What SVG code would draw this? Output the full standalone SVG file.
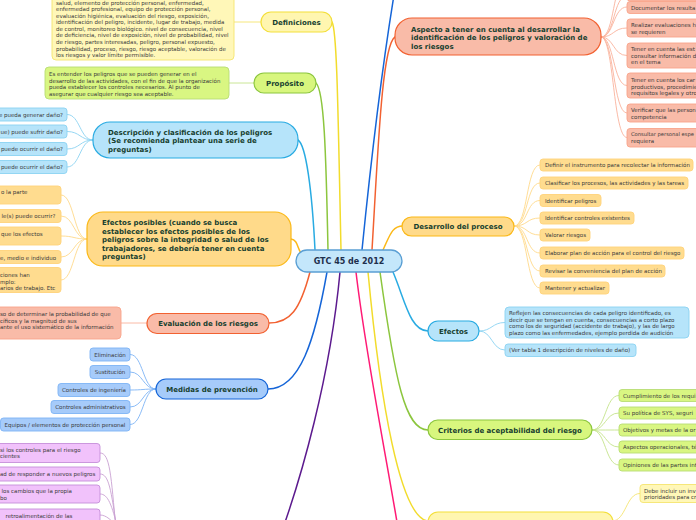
<svg xmlns="http://www.w3.org/2000/svg" width="696" height="520" viewBox="0 0 696 520">
<style>
text{font-family:"DejaVu Sans",Verdana,sans-serif;}
.t{font-size:5.5px;fill:#3a3a3a;}
.b{font-size:7px;font-weight:bold;fill:#17402f;}
.m{text-anchor:middle;}
.e{text-anchor:end;}
.c{fill:none;stroke-width:1.5;stroke-linecap:round;}
.s{fill:none;stroke-width:0.9;}
.n{stroke-width:1.2;}
.k{stroke-width:0.9;}
.yel{fill:#fff6b0;stroke:#f3df3a;}
.yelc{fill:#fff7b8;stroke:#f5e46e;}
.grn{fill:#d8f67e;stroke:#8cc63e;}
.grnc{fill:#d9f682;stroke:#b8dd74;}
.lbl{fill:#b6e4fa;stroke:#29abe2;}
.lblc{fill:#b6e4fa;stroke:#8bd3f2;}
.org{fill:#ffda8a;stroke:#fbb817;}
.orgc{fill:#ffdc8f;stroke:#ffd27a;}
.sal{fill:#f9bba8;stroke:#f26131;}
.salc{fill:#f9bba8;stroke:#f8a48a;}
.blu{fill:#a6cbfa;stroke:#1565d8;}
.bluc{fill:#a6cbfa;stroke:#7db3f5;}
.purc{fill:#f1c2fb;stroke:#c58ed9;}
</style>
<rect width="696" height="520" fill="#ffffff"/>

<g id="connectors">
  <path class="c" stroke="#f2dc2c" d="M341,250 C338,110 337,30 332,22"/>
  <path class="c" stroke="#8cc63e" d="M328,250 C326,150 324,90 316,83"/>
  <path class="c" stroke="#29abe2" d="M315,250 C312,190 306,145 298,140"/>
  <path class="c" stroke="#1565d8" d="M362,250 C372,150 385,50 394,-5"/>
  <path class="c" stroke="#f26131" d="M372,250 C378,150 382,45 395,37"/>
  <path class="c" stroke="#fbb817" d="M383,250 C390,235 392,226 403,226"/>
  <path class="c" stroke="#fbb817" d="M301,253 C297,248 298,240 291,239"/>
  <path class="c" stroke="#f26131" d="M310,272 C300,310 290,323 269,323"/>
  <path class="c" stroke="#1565d8" d="M327,272 C315,340 300,389 268,389"/>
  <path class="c" stroke="#5c1a8e" d="M340,272 C330,380 300,480 283,528"/>
  <path class="c" stroke="#ff1a75" d="M356,272 C365,350 385,450 398,528"/>
  <path class="c" stroke="#f2dc2c" d="M368,272 C380,400 400,518 428,521"/>
  <path class="c" stroke="#8cc63e" d="M380,272 C395,380 405,430 428,430"/>
  <path class="c" stroke="#29abe2" d="M393,272 C405,300 410,331 428,331"/>
  <path class="s" stroke="#f5e46e" d="M261,22 L234,22"/>
  <path class="s" stroke="#c4e38a" d="M254,83 L229,83"/>
  <path class="s" stroke="#f9b29c" d="M147,323 L121,323"/>
  <g class="s" stroke="#8bd3f2">
    <path d="M93,140 C80,140 80,114.5 67,114.5"/>
    <path d="M93,140 C80,140 80,131.5 67,131.5"/>
    <path d="M93,140 C80,140 80,149 67,149"/>
    <path d="M93,140 C80,140 80,167 67,167"/>
  </g>
  <g class="s" stroke="#ffd98a">
    <path d="M87,239 C74,239 74,195 61,195"/>
    <path d="M87,239 C74,239 74,216 61,216"/>
    <path d="M87,239 C74,239 74,236 61,236"/>
    <path d="M87,239 C74,239 74,257 61,257"/>
    <path d="M87,239 C74,239 74,280 61,280"/>
  </g>
  <g class="s" stroke="#7db3f5">
    <path d="M156,389 C143,389 143,354.5 130,354.5"/>
    <path d="M156,389 C143,389 143,372 130,372"/>
    <path d="M156,389 C143,389 143,390 130,390"/>
    <path d="M156,389 C143,389 143,407 130,407"/>
    <path d="M156,389 C143,389 143,424.5 130,424.5"/>
  </g>
  <g class="s" stroke="#c9a2d2">
    <path d="M100,453 C110,453 111,475 116,530"/>
    <path d="M100,474 C109,474 111,490 117,530"/>
    <path d="M100,494 C108,494 112,505 118,530"/>
    <path d="M100,515 C106,515 112,520 119,530"/>
  </g>
  <g class="s" stroke="#f9b29c">
    <path d="M601,37 C615,37 612,-20 627,-20"/>
    <path d="M601,37 C615,37 613,-4 627,-4"/>
    <path d="M601,37 C614,37 613,7 627,7"/>
    <path d="M601,37 C614,37 613,28 627,28"/>
    <path d="M601,37 C614,37 613,55.5 627,55.5"/>
    <path d="M601,37 C614,37 613,85.5 627,85.5"/>
    <path d="M601,37 C614,37 613,113 627,113"/>
    <path d="M601,37 C614,37 613,137.5 627,137.5"/>
  </g>
  <g class="s" stroke="#ffd98a">
    <path d="M514,226 C528,226 526,165 540,165"/>
    <path d="M514,226 C528,226 526,183 540,183"/>
    <path d="M514,226 C528,226 526,200.5 540,200.5"/>
    <path d="M514,226 C528,226 526,218 540,218"/>
    <path d="M514,226 C528,226 526,235 540,235"/>
    <path d="M514,226 C528,226 526,253 540,253"/>
    <path d="M514,226 C528,226 526,271 540,271"/>
    <path d="M514,226 C528,226 526,288 540,288"/>
  </g>
  <g class="s" stroke="#8bd3f2">
    <path d="M479,331 C492,331 492,322.5 505,322.5"/>
    <path d="M479,331 C492,331 492,350 505,350"/>
  </g>
  <g class="s" stroke="#c4e38a">
    <path d="M592,430 C606,430 605,395.5 619,395.5"/>
    <path d="M592,430 C606,430 605,413 619,413"/>
    <path d="M592,430 C606,430 605,430 619,430"/>
    <path d="M592,430 C606,430 605,447 619,447"/>
    <path d="M592,430 C606,430 605,465 619,465"/>
  </g>
  <path class="s" stroke="#f5e46e" d="M612,521 C626,521 626,493.5 640,493.5"/>
</g>

<g id="center">
  <rect x="296" y="250" width="106" height="22" rx="11" fill="#c4e7fb" stroke="#5a9fd4" stroke-width="1.3"/>
  <text x="349" y="264" class="m" style="font-size:8px;font-weight:bold;fill:#1e2f4d">GTC 45 de 2012</text>
</g>

<g id="definiciones">
  <rect class="yel n" x="261" y="12" width="71" height="20" rx="10"/>
  <text class="b m" x="296.5" y="24.5">Definiciones</text>
</g>
<g id="definiciones-texto">
  <rect class="yelc k" x="52" y="-30" width="182" height="90" rx="4"/>
  <text class="t" x="56" y="4.5">salud, elemento de protección personal, enfermedad,</text>
  <text class="t" x="56" y="11.3">enfermedad profesional, equipo de protección personal,</text>
  <text class="t" x="56" y="17.8">evaluación higiénica, evaluación del riesgo, exposición,</text>
  <text class="t" x="56" y="24.4">identificación del peligro, incidente, lugar de trabajo, medida</text>
  <text class="t" x="56" y="30.9">de control, monitoreo biológico. nivel de consecuencia, nivel</text>
  <text class="t" x="56" y="37.3">de deficiencia, nivel de exposición, nivel de probabilidad, nivel</text>
  <text class="t" x="56" y="44">de riesgo, partes interesadas, peligro, personal expuesto,</text>
  <text class="t" x="56" y="50.7">probabilidad, proceso, riesgo, riesgo aceptable, valoración de</text>
  <text class="t" x="56" y="57.3">los riesgos y valor límite permisible.</text>
</g>

<g id="proposito">
  <rect class="grn n" x="254" y="73" width="62" height="20" rx="10"/>
  <text class="b m" x="285" y="85.5">Propósito</text>
</g>
<g id="proposito-texto">
  <rect class="grnc k" x="45" y="67" width="184" height="32" rx="4"/>
  <text class="t" x="49" y="76">Es entender los peligros que se pueden generar en el</text>
  <text class="t" x="49" y="82.6">desarrollo de las actividades, con el fin de que la organización</text>
  <text class="t" x="49" y="89.2">pueda establecer los controles necesarios. Al punto de</text>
  <text class="t" x="49" y="95.7">asegurar que cualquier riesgo sea aceptable.</text>
</g>

<g id="descripcion">
  <rect class="lbl n" x="93" y="122" width="205" height="36" rx="17"/>
  <text class="b" x="108" y="134.5">Descripción y clasificación de los peligros</text>
  <text class="b" x="108" y="143">(Se recomienda plantear una serie de</text>
  <text class="b" x="108" y="151.5">preguntas)</text>
</g>
<g id="descripcion-hijos">
  <rect class="lblc k" x="-10" y="108" width="77" height="13" rx="3"/>
  <text class="t e" x="63" y="116.5">e pueda generar daño?</text>
  <rect class="lblc k" x="-10" y="125" width="77" height="13" rx="3"/>
  <text class="t e" x="63" y="133.5">ue) puede sufrir daño?</text>
  <rect class="lblc k" x="-10" y="142.5" width="77" height="13" rx="3"/>
  <text class="t e" x="63" y="151">puede ocurrir el daño?</text>
  <rect class="lblc k" x="-10" y="160.5" width="77" height="13" rx="3"/>
  <text class="t e" x="63" y="169">puede ocurrir el daño?</text>
</g>

<g id="efectos-posibles">
  <rect class="org n" x="87" y="212" width="204" height="54" rx="16"/>
  <text class="b" x="102" y="225">Efectos posibles (cuando se busca</text>
  <text class="b" x="102" y="233.5">establecer los efectos posibles de los</text>
  <text class="b" x="102" y="242">peligros sobre la integridad o salud de los</text>
  <text class="b" x="102" y="250.5">trabajadores, se debería tener en cuenta</text>
  <text class="b" x="102" y="259">preguntas)</text>
</g>
<g id="efectos-posibles-hijos">
  <rect class="orgc k" x="-10" y="186" width="71" height="18" rx="3"/>
  <text class="t" x="1" y="194">o la parte</text>
  <rect class="orgc k" x="-10" y="209.5" width="71" height="13" rx="3"/>
  <text class="t" x="1.5" y="218">le(s) puede ocurrir?</text>
  <rect class="orgc k" x="-10" y="227" width="71" height="18" rx="3"/>
  <text class="t" x="1" y="235.5">que los efectos</text>
  <rect class="orgc k" x="-10" y="250.5" width="71" height="13" rx="3"/>
  <text class="t" x="0" y="259.5">e, medio e individuo</text>
  <rect class="orgc k" x="-10" y="267.5" width="71" height="25" rx="3"/>
  <text class="t" x="0" y="277">ciones han</text>
  <text class="t" x="0" y="283.5">mplo:</text>
  <text class="t" x="0" y="290">arios de trabajo. Etc</text>
</g>

<g id="evaluacion">
  <rect class="sal n" x="147" y="313.5" width="122" height="20" rx="10"/>
  <text class="b m" x="208" y="326">Evaluación de los riesgos</text>
</g>
<g id="evaluacion-texto">
  <rect class="salc k" x="-10" y="307" width="131" height="32" rx="4"/>
  <text class="t" x="0" y="315.5">so de determinar la probabilidad de que</text>
  <text class="t" x="0" y="322.5">cíficos y la magnitud de sus</text>
  <text class="t" x="0" y="329">ante el uso sistemático de la información</text>
</g>

<g id="medidas">
  <rect class="blu n" x="156" y="379" width="112" height="20" rx="10"/>
  <text class="b m" x="212" y="391.5">Medidas de prevención</text>
</g>
<g id="medidas-hijos">
  <rect class="bluc k" x="90" y="348" width="40" height="13" rx="3"/>
  <text class="t m" x="110" y="356.5">Eliminación</text>
  <rect class="bluc k" x="90" y="365.5" width="40" height="13" rx="3"/>
  <text class="t m" x="110" y="374">Sustitución</text>
  <rect class="bluc k" x="58" y="383.5" width="72" height="13" rx="3"/>
  <text class="t m" x="94" y="392">Controles de ingeniería</text>
  <rect class="bluc k" x="51" y="400.5" width="79" height="13" rx="3"/>
  <text class="t m" x="90.5" y="409">Controles administrativos</text>
  <rect class="bluc k" x="0.5" y="418" width="129.5" height="13" rx="3"/>
  <text class="t m" x="65" y="426.5">Equipos / elementos de protección personal</text>
</g>

<g id="revision-hijos">
  <rect class="purc k" x="-10" y="443.5" width="110" height="19" rx="3"/>
  <text class="t" x="0" y="451.5">si los controles para el riesgo</text>
  <text class="t" x="0" y="458">cientes</text>
  <rect class="purc k" x="-10" y="467" width="110" height="14" rx="3"/>
  <text class="t" x="0" y="476">ad de responder a nuevos peligros</text>
  <rect class="purc k" x="-10" y="485" width="110" height="18" rx="3"/>
  <text class="t" x="1.5" y="493">los cambios que la propia</text>
  <text class="t" x="0" y="499.5">bo</text>
  <rect class="purc k" x="-10" y="509" width="110" height="20" rx="3"/>
  <text class="t" x="5.5" y="517.5">retroalimentación de las</text>
</g>

<g id="aspecto">
  <rect class="sal n" x="395" y="18" width="206" height="37" rx="17"/>
  <text class="b" x="411" y="32">Aspecto a tener en cuenta al desarrollar la</text>
  <text class="b" x="411" y="40.3">identificación de los peligros y valoración de</text>
  <text class="b" x="411" y="48.7">los riesgos</text>
</g>
<g id="aspecto-hijos">
  <rect class="salc k" x="627" y="-14" width="80" height="15" rx="3"/>
  <rect class="salc k" x="627" y="1.5" width="80" height="12" rx="3"/>
  <text class="t" x="631" y="9.5">Documentar los resulta</text>
  <rect class="salc k" x="627" y="19" width="80" height="18" rx="3"/>
  <text class="t" x="631" y="27">Realizar evaluaciones h</text>
  <text class="t" x="631" y="33.5">se requieren</text>
  <rect class="salc k" x="627" y="43" width="80" height="25" rx="3"/>
  <text class="t" x="631" y="51">Tener en cuenta las est</text>
  <text class="t" x="631" y="57.5">consultar información d</text>
  <text class="t" x="631" y="64">en el tema</text>
  <rect class="salc k" x="627" y="73" width="80" height="25" rx="3"/>
  <text class="t" x="631" y="82">Tener en cuenta los car</text>
  <text class="t" x="631" y="88.5">productivos, procedimie</text>
  <text class="t" x="631" y="95">requisitos legales y otro</text>
  <rect class="salc k" x="627" y="104" width="80" height="18" rx="3"/>
  <text class="t" x="631" y="112">Verificar que las person</text>
  <text class="t" x="631" y="118.5">competencia</text>
  <rect class="salc k" x="627" y="128.5" width="80" height="18.5" rx="3"/>
  <text class="t" x="631" y="136" style="font-size:5.2px">Consultar personal espe</text>
  <text class="t" x="631" y="142.5">requiera</text>
</g>

<g id="desarrollo">
  <rect class="org n" x="402" y="217" width="112" height="19" rx="9.5"/>
  <text class="b m" x="458" y="229">Desarrollo del proceso</text>
</g>
<g id="desarrollo-hijos">
  <rect class="orgc k" x="540" y="159" width="153" height="12" rx="3"/>
  <text class="t" x="545" y="167">Definir el instrumento para recolectar la información</text>
  <rect class="orgc k" x="540" y="177" width="148" height="12" rx="3"/>
  <text class="t" x="545" y="185">Clasificar los procesos, las actividades y las tareas</text>
  <rect class="orgc k" x="540" y="194.5" width="61" height="12" rx="3"/>
  <text class="t" x="545" y="202.5">Identificar peligros</text>
  <rect class="orgc k" x="540" y="212" width="94" height="12" rx="3"/>
  <text class="t" x="545" y="220">Identificar controles existentes</text>
  <rect class="orgc k" x="540" y="229" width="50" height="12" rx="3"/>
  <text class="t" x="545" y="237">Valorar riesgos</text>
  <rect class="orgc k" x="540" y="247" width="144" height="12" rx="3"/>
  <text class="t" x="545" y="255">Elaborar plan de acción para el control del riesgo</text>
  <rect class="orgc k" x="540" y="265" width="125" height="12" rx="3"/>
  <text class="t" x="545" y="273">Revisar la conveniencia del plan de acción</text>
  <rect class="orgc k" x="540" y="282" width="69" height="12" rx="3"/>
  <text class="t" x="545" y="290">Mantener y actualizar</text>
</g>

<g id="efectos">
  <rect class="lbl n" x="428" y="321" width="51" height="20" rx="10"/>
  <text class="b m" x="453.5" y="333.5">Efectos</text>
</g>
<g id="efectos-hijos">
  <rect class="lblc k" x="505" y="307" width="184" height="31" rx="4"/>
  <text class="t" x="509" y="315">Reflejen las consecuencias de cada peligro identificado, es</text>
  <text class="t" x="509" y="321.7">decir que se tengan en cuenta, consecuencias a corto plazo</text>
  <text class="t" x="509" y="328.3">como los de seguridad (accidente de trabajo), y las de largo</text>
  <text class="t" x="509" y="335">plazo como las enfermedades, ejemplo perdida de audición</text>
  <rect class="lblc k" x="505" y="344" width="131" height="12.5" rx="3"/>
  <text class="t" x="509" y="352.3">(Ver tabla 1 descripción de niveles de daño)</text>
</g>

<g id="criterios">
  <rect class="grn n" x="428" y="420" width="164" height="19.5" rx="9.7"/>
  <text class="b m" x="510" y="432.5">Criterios de aceptabilidad del riesgo</text>
</g>
<g id="criterios-hijos">
  <rect class="grnc k" x="619" y="389.5" width="85" height="12" rx="3"/>
  <text class="t" x="623" y="397.5">Cumplimiento de los requi</text>
  <rect class="grnc k" x="619" y="407" width="85" height="12" rx="3"/>
  <text class="t" x="623" y="415">Su política de SYS, seguri</text>
  <rect class="grnc k" x="619" y="424" width="85" height="12" rx="3"/>
  <text class="t" x="623" y="432">Objetivos y metas de la or</text>
  <rect class="grnc k" x="619" y="441" width="85" height="12" rx="3"/>
  <text class="t" x="623" y="449">Aspectos operacionales, té</text>
  <rect class="grnc k" x="619" y="459" width="85" height="12" rx="3"/>
  <text class="t" x="623" y="467">Opiniones de las partes int</text>
</g>

<g id="nodo-inferior">
  <rect class="yel n" x="428" y="512" width="185" height="20" rx="10"/>
</g>
<g id="nodo-inferior-hijo">
  <rect class="yelc k" x="640" y="484.5" width="70" height="18" rx="3"/>
  <text class="t" x="644" y="492.5">Debe incluir un inv</text>
  <text class="t" x="644" y="499">prioridades para cr</text>
</g>
</svg>
